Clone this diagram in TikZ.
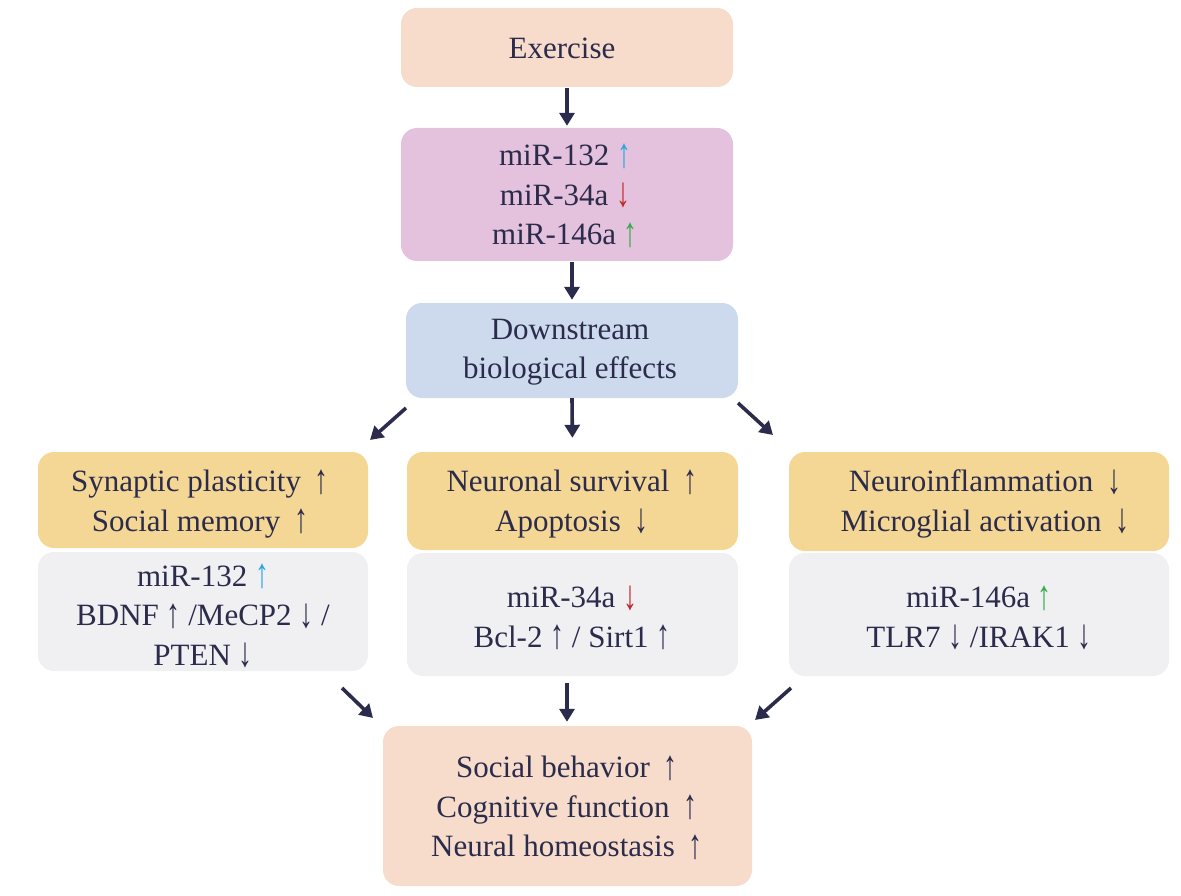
\documentclass[tikz,border=0pt]{standalone}
\usepackage{fontspec}
\setmainfont{Liberation Serif}
\usetikzlibrary{arrows.meta}
\definecolor{ink}{HTML}{2B2C4C}
\definecolor{peach}{HTML}{F7DCCC}
\definecolor{pinkbox}{HTML}{E4C1DC}
\definecolor{bluebox}{HTML}{CDD9EC}
\definecolor{yellowbox}{HTML}{F5D795}
\definecolor{graybox}{HTML}{F0F0F3}
\definecolor{upcyan}{HTML}{2AA7E0}
\definecolor{downred}{HTML}{C0272D}
\definecolor{upgreen}{HTML}{39A94A}
\newcommand{\gap}{\hspace{0.45em}}
\newcommand{\up}{\raisebox{-1.5pt}{\scalebox{0.9}[1.35]{↑}}}
\newcommand{\dn}{\raisebox{-1.5pt}{\scalebox{0.9}[1.35]{↓}}}
\begin{document}
\begin{tikzpicture}[x=1pt,y=-1pt,
  box/.style={rounded corners=16pt, inner sep=0pt},
  txt/.style={inner sep=0pt, align=center, text=ink,
    font=\fontsize{31}{39.5}\selectfont},
  conn/.style={draw=ink, line width=3.6pt, -{Triangle[length=13pt,width=15pt]}}]
\useasboundingbox (0,0) rectangle (1181,896);
% boxes
\node[box, fill=peach, minimum width=332pt, minimum height=79pt] (ex) at (567,47.5) {};
\node[box, fill=pinkbox, minimum width=332pt, minimum height=133pt] (mir) at (567,194.5) {};
\node[box, fill=bluebox, minimum width=332pt, minimum height=95pt] (down) at (572,350.5) {};
\node[box, fill=yellowbox, minimum width=330pt, minimum height=96pt] (ly) at (203,500) {};
\node[box, fill=graybox, minimum width=330pt, minimum height=119pt] (lg) at (203,611.5) {};
\node[box, fill=yellowbox, minimum width=331pt, minimum height=98pt] (my) at (572.5,501) {};
\node[box, fill=graybox, minimum width=331pt, minimum height=123pt] (mg) at (572.5,614.5) {};
\node[box, fill=yellowbox, minimum width=380pt, minimum height=99pt] (ry) at (979,501.5) {};
\node[box, fill=graybox, minimum width=380pt, minimum height=123pt] (rg) at (979,614.5) {};
\node[box, fill=peach, minimum width=369pt, minimum height=160pt] (out) at (567.5,806) {};
% texts
\node[txt] (ext) at (562,48) {Exercise};
\node[txt] (mirt) at (565,195.5)
  {miR-132 {\color{upcyan}\up}\\miR-34a {\color{downred}\dn}\\miR-146a {\color{upgreen}\up}};
\node[txt] (downt) at (570,352) {Downstream\\biological effects};
\node[txt] (lyt) at (200,504) {Synaptic plasticity\gap\up\\Social memory\gap\up};
\node[txt] (lgt) at (203,616) {miR-132 {\color{upcyan}\up}\\BDNF \up\ /MeCP2 \dn\ /\\PTEN \dn};
\node[txt] (myt) at (572,504) {Neuronal survival\gap\up\\Apoptosis\gap\dn};
\node[txt] (mgt) at (572,618) {miR-34a {\color{downred}\dn}\\Bcl-2 \up\ / Sirt1 \up};
\node[txt] (ryt) at (985,504) {Neuroinflammation\gap\dn\\Microglial activation\gap\dn};
\node[txt] (rgt) at (979,618) {miR-146a {\color{upgreen}\up}\\TLR7 \dn\ /IRAK1 \dn};
\node[txt] (outt) at (567,807.5)
  {Social behavior\gap\up\\Cognitive function\gap\up\\Neural homeostasis\gap\up};
% arrow end points
\coordinate (dl1) at (406,408);
\coordinate (dl2) at (370,440);
\coordinate (dr1) at (738,403);
\coordinate (dr2) at (773,435);
\coordinate (bl1) at (342,688);
\coordinate (bl2) at (373,718);
\coordinate (br1) at (791,688);
\coordinate (br2) at (755,720);
% connectors
\draw[conn, shorten <=1pt, shorten >=2pt] (ex.south) -- (ex.south |- mir.north);
\draw[conn, shorten <=1pt, shorten >=3pt] (mir.south -| down) -- (down.north);
\draw[conn, shorten <=0pt, shorten >=14pt] (down.south) -- (my.north);
\draw[conn] (dl1) -- (dl2);
\draw[conn] (dr1) -- (dr2);
\draw[conn, shorten <=7pt, shorten >=4pt] (mg.south -| 567,0) -- (out.north -| 567,0);
\draw[conn] (bl1) -- (bl2);
\draw[conn] (br1) -- (br2);
\end{tikzpicture}
\end{document}
